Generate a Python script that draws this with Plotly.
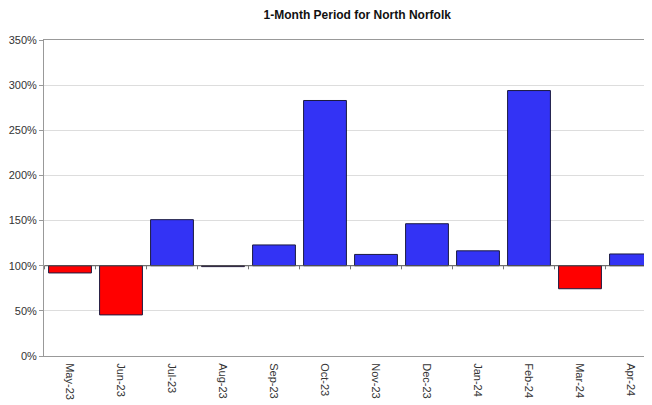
import plotly.graph_objects as go

months = ["May-23", "Jun-23", "Jul-23", "Aug-23", "Sep-23", "Oct-23",
          "Nov-23", "Dec-23", "Jan-24", "Feb-24", "Mar-24", "Apr-24"]
values = [92, 45.5, 151, 99, 123, 283, 112.5, 146.5, 116.5, 294, 74.5, 113]
baseline = 100
tick_vals = [0, 50, 100, 150, 200, 250, 300, 350]
tick_text = [f"{v}%" for v in tick_vals]

colors = ["#3333F5" if v >= baseline else "#FF0000" for v in values]

fig = go.Figure()
fig.add_trace(go.Bar(
    x=months,
    y=[v - baseline for v in values],
    base=baseline,
    marker=dict(color=colors, line=dict(color="#1a1a40", width=1)),
    hoverinfo="skip",
))

shapes = [dict(type="line", xref="x", yref="y", x0=-0.5, x1=len(months) - 0.5,
               y0=baseline, y1=baseline, line=dict(color="#555555", width=1))]
for i in range(len(months) + 1):
    shapes.append(dict(type="line", xref="x", yref="y", x0=i - 0.5, x1=i - 0.5,
                       y0=baseline, y1=baseline - 4, line=dict(color="#777777", width=1)))
fig.update_layout(shapes=shapes)

# page body has an 8px default margin, so the figure is shifted by 8px
fig.update_layout(
    width=651, height=397,
    margin=dict(l=36, r=2, t=32, b=49),
    paper_bgcolor="white", plot_bgcolor="white",
    font=dict(family="Liberation Sans, Arial, sans-serif", size=11, color="#333333"),
    title=dict(text="<b>1-Month Period for North Norfolk</b>", xref="paper", x=0.511,
               xanchor="center", y=0.982, yanchor="middle",
               font=dict(size=12, color="#111111")),
    bargap=0.16,
    showlegend=False,
)
fig.update_yaxes(range=[0, 350], tickvals=tick_vals, ticktext=tick_text,
                 showgrid=True, gridcolor="#dddddd", gridwidth=1,
                 showline=True, linecolor="#999999", mirror=True,
                 ticks="outside", ticklen=4, tickcolor="#999999", automargin=False,
                 tickfont=dict(size=11, color="#333333"), zeroline=False)
fig.update_xaxes(tickangle=90, showline=True, linecolor="#999999", mirror=True,
                 ticks="", tickfont=dict(size=11, color="#333333"), automargin=False,
                 ticklabelstandoff=4, showgrid=False)

fig.write_html("out.html")
